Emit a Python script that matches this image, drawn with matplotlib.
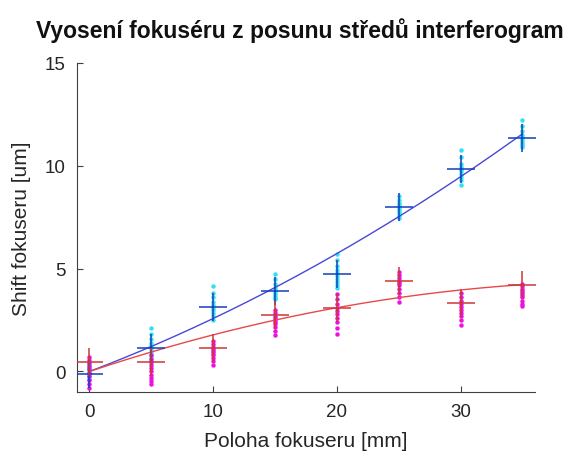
import matplotlib
matplotlib.use("Agg")
import matplotlib.pyplot as plt
import numpy as np

plt.rcParams['font.family'] = ['Liberation Sans', 'DejaVu Sans']

positions = [0, 5, 10, 15, 20, 25, 30, 35]

# individual measurements (cyan) - series 1
blue_points = [
    [0.35, 0.2, 0.1, 0.0, -0.05, -0.1, -0.2, -0.3, -0.4, 0.15],
    [2.1, 1.8, 1.6, 1.4, 1.25, 1.1, 0.95, 0.8, 0.65, 0.5],
    [4.17, 3.8, 3.6, 3.4, 3.25, 3.1, 3.0, 2.85, 2.7, 2.5],
    [4.75, 4.5, 4.25, 4.05, 3.95, 3.85, 3.75, 3.65, 3.55, 3.5],
    [5.7, 5.4, 5.15, 4.95, 4.8, 4.65, 4.5, 4.35, 4.2, 4.05],
    [8.55, 8.35, 8.2, 8.1, 8.0, 7.9, 7.8, 7.7, 7.55, 7.45],
    [10.75, 10.4, 10.1, 9.95, 9.85, 9.75, 9.6, 9.45, 9.3, 9.05],
    [12.2, 11.95, 11.7, 11.5, 11.4, 11.3, 11.2, 11.1, 11.0, 10.9],
]
# individual measurements (magenta) - series 2
red_points = [
    [0.7, 0.55, 0.4, 0.25, 0.1, -0.05, -0.2, -0.4, -0.6, -0.8],
    [0.8, 0.6, 0.45, 0.3, 0.15, 0.0, -0.15, -0.3, -0.45, -0.6],
    [1.5, 1.35, 1.2, 1.1, 1.0, 0.9, 0.8, 0.65, 0.5, 0.3],
    [3.0, 2.85, 2.7, 2.6, 2.5, 2.4, 2.3, 2.15, 1.95, 1.76],
    [3.75, 3.5, 3.3, 3.1, 2.95, 2.8, 2.6, 2.4, 2.1, 1.8],
    [4.85, 4.7, 4.55, 4.4, 4.3, 4.2, 4.0, 3.8, 3.6, 3.4],
    [3.83, 3.6, 3.45, 3.3, 3.15, 3.0, 2.85, 2.7, 2.5, 2.28],
    [4.27, 4.15, 4.0, 3.9, 3.8, 3.7, 3.6, 3.45, 3.3, 3.2],
]

# mean markers
blue_means = [-0.1, 1.15, 3.15, 3.9, 4.76, 8.0, 9.82, 11.36]
red_means = [0.48, 0.48, 1.16, 2.76, 3.1, 4.42, 3.35, 4.22]

# fitted curves y = a*x + b*x^2
blue_fit = [0.0029, 0.2285, 0.0]
red_fit = [-0.002295, 0.2009, 0.0]

fig = plt.figure(figsize=(5.68, 4.56), dpi=100)
ax = fig.add_axes([0.1356, 0.138, 0.806, 0.722])

for x, vals in zip(positions, blue_points):
    ax.plot([x] * len(vals), vals, 'o', color='#33e0f0', markersize=3.2,
            markeredgewidth=0, zorder=2)
for x, vals in zip(positions, red_points):
    ax.plot([x] * len(vals), vals, 'o', color='#ee10e0', markersize=3.2,
            markeredgewidth=0, zorder=2)

xf = np.linspace(0, 35, 200)
ax.plot(xf, np.polyval(blue_fit, xf), color='#4848d8', lw=1.0, zorder=3)
ax.plot(xf, np.polyval(red_fit, xf), color='#e84848', lw=1.0, zorder=3)

ax.plot(positions, blue_means, '+', color='#1040c0', markersize=20,
        markeredgewidth=1.1, zorder=4)
ax.plot(positions, red_means, '+', color='#c83838', markersize=20,
        markeredgewidth=1.1, zorder=4)

ax.set_xlim(-1, 36)
ax.set_ylim(-1, 15)
ax.set_xticks([0, 10, 20, 30])
ax.set_yticks([0, 5, 10, 15])
for s in ['top', 'right']:
    ax.spines[s].set_visible(False)
for s in ['left', 'bottom']:
    ax.spines[s].set_color('#404040')
    ax.spines[s].set_linewidth(0.8)
ax.tick_params(direction='in', length=4, width=0.8, colors='#404040',
               labelcolor='#262626', labelsize=13.5, pad=8)

ax.set_xlabel('Poloha fokuseru [mm]', fontsize=15, color='#262626', labelpad=8)
ax.set_ylabel('Shift fokuseru [um]', fontsize=15, color='#262626', labelpad=10)
fig.text(0.528, 0.933, 'Vyosení fokuséru z posunu středů interferogram',
         ha='center', va='center', fontsize=16.5, fontweight='bold', color='#111111')

fig.savefig('out.png', dpi=100)
